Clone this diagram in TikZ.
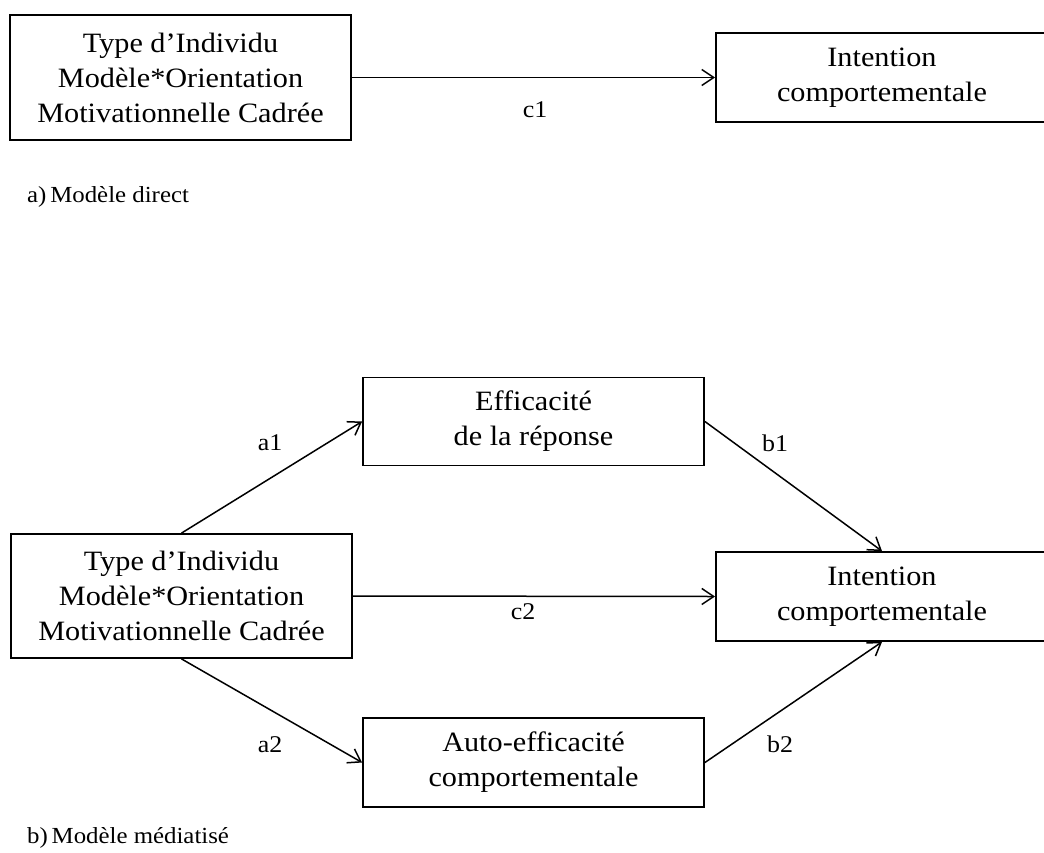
\documentclass[tikz,border=0pt]{standalone}
\usepackage{fontspec}
\setmainfont{Liberation Serif}[FakeStretch=1.08]
\usetikzlibrary{arrows.meta}
\tikzset{
  box/.style={draw, line width=1.8pt, inner sep=0pt, align=center,
    font=\fontsize{28}{35}\selectfont},
  conn/.style={line width=1.5pt, -{Straight Barb[length=12pt,width=16pt,line width=1.5pt]}},
  lbl/.style={font=\fontsize{24}{28}\selectfont, inner sep=0pt},
  captxt/.style={font=\fontsize{23}{27}\selectfont, inner sep=0pt, anchor=base west}
}
\begin{document}
\begin{tikzpicture}[x=1pt,y=-1pt]
\useasboundingbox (0,0) rectangle (1044,852);
\begin{scope}
\clip (0,0) rectangle (1044,852);
% a) direct model
\node[box, minimum width=341pt, minimum height=125pt] (typeA) at (180.5,77.5)
  {Type d’Individu\\Modèle*Orientation\\Motivationnelle Cadrée};
\node[box, minimum width=332pt, minimum height=89pt] (intA) at (882,77.5)
  {Intention\\comportementale};
\draw[conn] (typeA.east) -- (intA.west);
\node[lbl] (c1) at (535,110) {c1};
\node[captxt] (capA) at (27,202) {a)\,Modèle direct};
% b) mediated model
\node[box, minimum width=341pt, minimum height=124pt] (typeB) at (181.5,596)
  {Type d’Individu\\Modèle*Orientation\\Motivationnelle Cadrée};
\node[box, minimum width=332pt, minimum height=89pt] (intB) at (882,596.5)
  {Intention\\comportementale};
\node[box, minimum width=341pt, minimum height=88pt] (eff) at (533.5,421.5)
  {Efficacité\\de la réponse};
\node[box, minimum width=341pt, minimum height=89pt] (auto) at (533.5,762.5)
  {Auto-efficacité\\comportementale};
\draw[conn] (typeB.east) -- (intB.west);
\draw[conn] (typeB.north) -- (eff.west);
\draw[conn] (typeB.south) -- (auto.west);
\draw[conn] (eff.east) -- (intB.north);
\draw[conn] (auto.east) -- (intB.south);
\node[lbl] (a1) at (270,443) {a1};
\node[lbl] (b1) at (775,443) {b1};
\node[lbl] (c2) at (523,612) {c2};
\node[lbl] (a2) at (270,745) {a2};
\node[lbl] (b2) at (780,744) {b2};
\node[captxt] (capB) at (27,843) {b)\,Modèle médiatisé};
\end{scope}
\end{tikzpicture}
\end{document}
